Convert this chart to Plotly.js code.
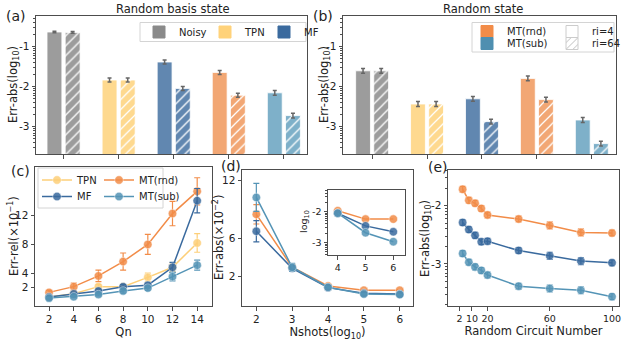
<!DOCTYPE html>
<html>
<head>
<meta charset="utf-8">
<script src="https://cdn.plot.ly/plotly-3.0.1.min.js"></script>
<style>
  html, body { margin: 0; padding: 0; background: #fff; }
  #chart { width: 627px; height: 342px; }
</style>
</head>
<body>
<div id="chart"></div>
<script>
// (a)/(b) bars: log10 of abs error, ri=4 solid, ri=64 hatched
const methods = ['Noisy', 'TPN', 'MF', 'MT(rnd)', 'MT(sub)'];
const basisRi4 = [-0.63, -1.83, -1.38, -1.64, -2.15];
const basisRi64 = [-0.64, -1.83, -2.04, -2.21, -2.72];
const basisErr4 = [0.02, 0.05, 0.05, 0.05, 0.06];
const basisErr64 = [0.02, 0.05, 0.05, 0.05, 0.06];
const randRi4 = [-1.60, -2.43, -2.30, -1.79, -2.83];
const randRi64 = [-1.60, -2.43, -2.87, -2.32, -3.42];
const randErr4 = [0.06, 0.06, 0.06, 0.06, 0.06];
const randErr64 = [0.06, 0.06, 0.06, 0.06, 0.06];

// (c) relative error vs qubit number
const qn = [2, 4, 6, 8, 10, 12, 14];
const tpnRel = [0.65, 1.1, 2.1, 2.1, 3.4, 4.8, 8.2];
const tpnRelErr = [0.15, 0.2, 0.3, 0.3, 0.6, 0.6, 1.3];
const rndRel = [1.3, 2.1, 3.6, 5.6, 8.0, 12.3, 15.4];
const rndRelErr = [0.3, 0.5, 0.8, 1.2, 1.4, 1.7, 1.9];
const mfRel = [0.65, 1.1, 1.5, 2.1, 2.3, 4.8, 14.1];
const mfRelErr = [0.15, 0.2, 0.3, 0.3, 0.3, 0.7, 1.7];
const subRel = [0.5, 0.7, 1.0, 1.5, 1.9, 3.5, 5.1];
const subRelErr = [0.1, 0.15, 0.2, 0.3, 0.3, 0.6, 0.7];

// (d) abs error vs shots, with log10 inset
const nshots = [2, 3, 4, 5, 6];
const rndShots = [8.45, 2.97, 1.03, 0.59, 0.59];
const rndShotsErr = [1.0, 0.3, 0.1, 0.05, 0.05];
const mfShots = [6.7, 2.86, 0.86, 0.28, 0.2];
const mfShotsErr = [1.1, 0.3, 0.1, 0.05, 0.05];
const subShots = [10.2, 2.97, 0.9, 0.2, 0.14];
const subShotsErr = [1.45, 0.4, 0.1, 0.05, 0.05];
const insetShots = [4, 5, 6];
const rndInset = [-1.97, -2.24, -2.24];
const mfInset = [-2.05, -2.46, -2.65];
const subInset = [-2.05, -2.68, -2.97];

// (e) abs error vs number of random circuits
const circuits = [4, 8, 12, 16, 20, 40, 60, 80, 100];
const rndCirc = [-1.72, -1.91, -1.96, -2.05, -2.16, -2.23, -2.34, -2.46, -2.47];
const mfCirc = [-2.29, -2.41, -2.51, -2.62, -2.61, -2.77, -2.86, -2.95, -2.98];
const subCirc = [-2.82, -2.97, -3.05, -3.11, -3.19, -3.38, -3.42, -3.45, -3.56];
const circErr = [0.05, 0.05, 0.05, 0.05, 0.05, 0.05, 0.06, 0.06, 0.05];

const FONT = 'DejaVu Sans';
const W = 627, H = 342;
const fullColors = ['#8a8a8a', '#ffd27a', '#3a6a9e', '#f28c48', '#4f8fb0'];
const barColors = ['#9c9c9c', '#fed98f', '#6187b0', '#f2a774', '#7eb0c9'];
const TPN = '#fdcf78', MF = '#3a6a9e', RND = '#f28c48', SUB = '#5494b6';
const AX = '#4d4d4d';

function px(x) { return x / W; }
function py(y) { return 1 - y / H; }

const minorLog = [];
for (let d = -5; d <= 0; d++) {
    for (let k = 2; k <= 9; k++) minorLog.push(d + Math.log10(k));
}

function barSet(ri4, ri64, err4, err64, xa, ya) {
    const pos = methods.map((m, i) => i);
    const base = -4;
    const common = {type: 'bar', base: base, width: 0.27, xaxis: xa, yaxis: ya,
        showlegend: false, hoverinfo: 'skip'};
    const traces = [Object.assign({}, common, {
        x: pos, y: ri4.map(v => v - base), offset: -0.3,
        marker: {color: barColors, line: {color: 'white', width: 0.8}},
        error_y: {type: 'data', array: err4, color: '#666', thickness: 1.5, width: 2}
    })];
    // hatched bars one per method, so each pattern gets its own background colour
    methods.forEach((m, i) => {
        traces.push(Object.assign({}, common, {
            x: [i], y: [ri64[i] - base], offset: 0.03,
            marker: {color: barColors[i], line: {color: 'white', width: 0.8},
                pattern: {shape: '/', fillmode: 'replace', bgcolor: barColors[i], fgcolor: 'white', size: 7, solidity: 0.18}},
            error_y: {type: 'data', array: [err64[i]], color: '#666', thickness: 1.5, width: 2}
        }));
    });
    return traces;
}

function swatch(name, color, legend, pattern, lineColor) {
    const m = {color: color, line: {color: lineColor || color, width: 1}};
    if (pattern) m.pattern = {shape: '/', fillmode: 'replace', bgcolor: 'white', fgcolor: '#bbb', size: 6, solidity: 0.2};
    return {type: 'bar', x: [null], y: [null], name: name, marker: m, legend: legend,
        xaxis: 'x', yaxis: 'y', hoverinfo: 'skip'};
}

function series(x, y, err, color, name, xa, ya, legend, size) {
    const t = {type: 'scatter', mode: 'lines+markers', x: x, y: y, name: name,
        line: {color: color, width: 1.5},
        marker: {color: color, size: size || 8.5, opacity: 0.85, line: {color: 'rgba(255,255,255,0.5)', width: 1}},
        xaxis: xa, yaxis: ya, hoverinfo: 'skip', showlegend: !!legend};
    if (legend) t.legend = legend;
    if (err) t.error_y = {type: 'data', array: err, color: color, thickness: 1.2, width: 3};
    return t;
}

const data = [].concat(
    barSet(basisRi4, basisRi64, basisErr4, basisErr64, 'x', 'y'),
    barSet(randRi4, randRi64, randErr4, randErr64, 'x2', 'y2'),
    [
        swatch('Noisy', fullColors[0], 'legend'),
        swatch('TPN', fullColors[1], 'legend2'),
        swatch('MF', fullColors[2], 'legend3'),
        swatch('MT(rnd)', fullColors[3], 'legend4'),
        swatch('ri=4', 'white', 'legend5', false, '#ccc'),
        swatch('MT(sub)', fullColors[4], 'legend6'),
        swatch('ri=64', 'white', 'legend7', true, '#ccc'),
        series(qn, tpnRel, tpnRelErr, TPN, 'TPN', 'x3', 'y3', 'legend8'),
        series(qn, rndRel, rndRelErr, RND, 'MT(rnd)', 'x3', 'y3', 'legend9'),
        series(qn, mfRel, mfRelErr, MF, 'MF', 'x3', 'y3', 'legend10'),
        series(qn, subRel, subRelErr, SUB, 'MT(sub)', 'x3', 'y3', 'legend11'),
        series(nshots, rndShots, rndShotsErr, RND, 'MT(rnd)', 'x4', 'y4'),
        series(nshots, mfShots, mfShotsErr, MF, 'MF', 'x4', 'y4'),
        series(nshots, subShots, subShotsErr, SUB, 'MT(sub)', 'x4', 'y4'),
        series(insetShots, rndInset, null, RND, 'MT(rnd)', 'x5', 'y5', null, 8.5),
        series(insetShots, mfInset, null, MF, 'MF', 'x5', 'y5', null, 8.5),
        series(insetShots, subInset, null, SUB, 'MT(sub)', 'x5', 'y5', null, 8.5),
        series(circuits, rndCirc, circErr, RND, 'MT(rnd)', 'x6', 'y6'),
        series(circuits, mfCirc, circErr, MF, 'MF', 'x6', 'y6'),
        series(circuits, subCirc, circErr, SUB, 'MT(sub)', 'x6', 'y6')
    ]
);

function axis(extra) {
    return Object.assign({
        showline: true, mirror: true, linecolor: AX, linewidth: 1,
        ticks: 'outside', ticklen: 3.5, tickwidth: 1, tickcolor: AX,
        showgrid: false, zeroline: false, tickangle: 0,
        tickfont: {family: FONT, size: 10.5, color: '#222'}
    }, extra);
}
function logMinor() {
    return {tickmode: 'array', tickvals: minorLog, ticks: 'outside', ticklen: 2, tickcolor: AX, showgrid: false};
}
const xTitleFont = {family: FONT, size: 11.5, color: '#222'};

const legBase = {orientation: 'h', bgcolor: 'rgba(0,0,0,0)', borderwidth: 0, itemwidth: 30,
    font: {family: FONT, size: 10, color: '#222'}, xanchor: 'left', yanchor: 'middle',
    itemclick: false, itemdoubleclick: false};
function leg(x, y) { return Object.assign({}, legBase, {x: px(x), y: py(y)}); }

function ann(text, x, y, size, extra) {
    return Object.assign({text: text, x: px(x), y: py(y), xref: 'paper', yref: 'paper',
        xanchor: 'center', yanchor: 'middle',
        showarrow: false, font: {family: FONT, size: size, color: '#222'}}, extra || {});
}
function box(x0, y0, x1, y1) {
    return {type: 'rect', xref: 'paper', yref: 'paper', x0: px(x0), x1: px(x1), y0: py(y1), y1: py(y0),
        line: {color: '#d4d4d4', width: 1}, fillcolor: 'rgba(255,255,255,0.85)', layer: 'above'};
}

const layout = {
    width: W, height: H,
    margin: {l: 0, r: 0, t: 0, b: 0},
    paper_bgcolor: 'white', plot_bgcolor: 'white',
    font: {family: FONT, color: '#222'},
    barmode: 'overlay',
    xaxis: axis({domain: [px(36), px(307)], anchor: 'y', range: [-0.5, 4.42],
        tickvals: [0, 1, 2, 3, 4], showticklabels: false}),
    yaxis: axis({domain: [py(154), py(16)], anchor: 'x', range: [-3.68, -0.23],
        tickvals: [-1, -2, -3], ticktext: ['-1', '-2', '-3'], minor: logMinor()}),
    xaxis2: axis({domain: [px(343), px(616)], anchor: 'y2', range: [-0.53, 4.44],
        tickvals: [0, 1, 2, 3, 4], showticklabels: false}),
    yaxis2: axis({domain: [py(154), py(16)], anchor: 'x2', range: [-3.68, -0.23],
        tickvals: [-1, -2, -3], ticktext: ['-1', '-2', '-3'], minor: logMinor()}),
    xaxis3: axis({domain: [px(35), px(212)], anchor: 'y3', range: [0.86, 15.2],
        tickvals: qn, title: {text: 'Qn', font: xTitleFont, standoff: 3}}),
    yaxis3: axis({domain: [py(306), py(167)], anchor: 'x3', range: [-0.6, 18.8],
        tickvals: [2, 4, 8, 12]}),
    xaxis4: axis({domain: [px(242), px(413)], anchor: 'y4', range: [1.6, 6.37],
        tickvals: nshots, title: {text: 'Nshots(log<sub>10</sub>)', font: xTitleFont, standoff: 3}}),
    yaxis4: axis({domain: [py(306), py(170)], anchor: 'x4', range: [-1.04, 13.04],
        tickvals: [2, 6, 12]}),
    xaxis5: axis({domain: [px(328), px(405)], anchor: 'y5', range: [3.65, 6.42],
        tickvals: insetShots, tickfont: {family: FONT, size: 9.5, color: '#222'}}),
    yaxis5: axis({domain: [py(255), py(190)], anchor: 'x5', range: [-3.4, -1.3],
        tickvals: [-2, -3], ticktext: ['-2', '-3'], minor: logMinor(),
        tickfont: {family: FONT, size: 9.5, color: '#222'}}),
    xaxis6: axis({domain: [px(448), px(619)], anchor: 'y6', range: [-5.4, 104.5],
        tickvals: [2, 10, 20, 60, 100], tickfont: {family: FONT, size: 9.5, color: '#222'},
        title: {text: 'Random Circuit Number', font: xTitleFont, standoff: 4}}),
    yaxis6: axis({domain: [py(306), py(170)], anchor: 'x6', range: [-3.72, -1.39],
        tickvals: [-2, -3], ticktext: ['-2', '-3'], minor: logMinor()}),
    legend: leg(139, 32),
    legend2: leg(205, 32),
    legend3: leg(264, 32),
    legend4: leg(467, 31.5),
    legend5: leg(552, 31.5),
    legend6: leg(467, 43.5),
    legend7: leg(552, 43.5),
    legend8: leg(37, 180),
    legend9: leg(99, 180),
    legend10: leg(37, 196.5),
    legend11: leg(99, 196.5),
    shapes: [
        box(140, 22.5, 306, 41.5),
        box(472, 22.5, 614, 52),
        box(38, 168, 163, 208)
    ],
    annotations: [
        ann('Random basis state', 173, 9, 11.5),
        ann('Random state', 483, 9, 11.5),
        ann('(a)', 16, 16, 14),
        ann('(b)', 323, 16, 14),
        ann('(c)', 20, 171, 14),
        ann('(d)', 231, 166, 14),
        ann('(e)', 438, 167, 14),
        ann('Err-abs(log<sub>10</sub>)', 14, 85, 11.5, {textangle: -90}),
        ann('Err-abs(log<sub>10</sub>)', 325, 85, 11.5, {textangle: -90}),
        ann('Err-rel(\u00d710<sup>\u22121</sup>)', 13, 236, 11.5, {textangle: -90}),
        ann('Err-abs(\u00d710<sup>\u22122</sup>)', 218, 238, 11.5, {textangle: -90}),
        ann('Err-abs(log<sub>10</sub>)', 425, 238, 11.5, {textangle: -90}),
        ann('log<sub>10</sub>', 304, 222, 9.5, {textangle: -90})
    ]
};

Plotly.newPlot('chart', data, layout, {staticPlot: true, displayModeBar: false});
</script>
</body>
</html>
